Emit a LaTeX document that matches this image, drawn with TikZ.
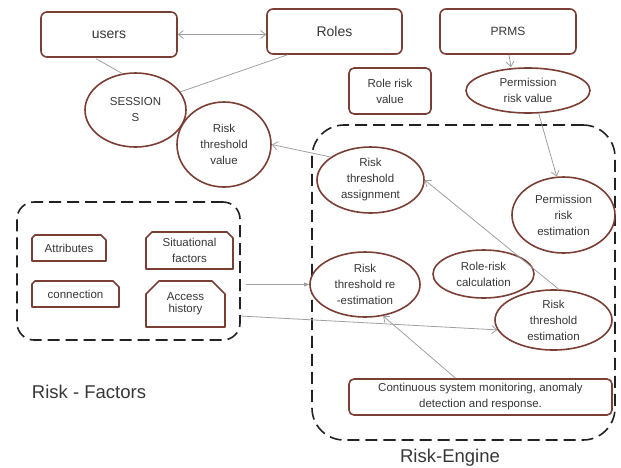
\documentclass[tikz,border=0pt]{standalone}
\usepackage{fontspec}
\setmainfont{Liberation Sans}
\usetikzlibrary{shapes.geometric,arrows.meta}
\definecolor{edgebrown}{RGB}{122,62,52}
\definecolor{txtgray}{RGB}{55,55,55}
\definecolor{linkgray}{RGB}{160,160,160}
\definecolor{dashgray}{RGB}{34,34,34}
\tikzset{
  txt/.style={text=txtgray,align=center,font=\fontsize{11.5}{16}\selectfont,inner sep=0pt},
  boxline/.style={draw=edgebrown,line width=1.6pt,fill=white,line join=round},
  rbox/.style={boxline,rounded corners=6pt,txt},
  oval/.style={boxline,ellipse,txt},
  group/.style={draw=dashgray,line width=1.6pt,dash pattern=on 12pt off 6pt},
  link/.style={draw=linkgray,line width=0.8pt},
  openarrow/.style={link,-{Straight Barb[length=5pt,width=8pt]}},
  solidarrow/.style={link,-{Triangle[length=5pt,width=4pt]}},
  biarrow/.style={link,{Straight Barb[length=5pt,width=8pt]}-{Straight Barb[length=5pt,width=8pt]}},
  biglabel/.style={text=txtgray,font=\fontsize{18.5}{20}\selectfont,inner sep=0pt}
}
% box with cut-off top corners: name, x1, y1, x2, y2, left cut, right cut, text
\newcommand\cutbox[8]{%
  \draw[boxline] ({#2},{#5}) -- ({#2},{#3+#6}) -- ({#2+#6},{#3}) -- ({#4-#7},{#3})
    -- ({#4},{#3+#7}) -- ({#4},{#5}) -- cycle;
  \node[txt] (#1) at ({(#2+#4)/2},{(#3+#5)/2}) {#8};}
\begin{document}
\begin{tikzpicture}[x=1pt,y=-1pt]
\useasboundingbox (0,0) rectangle (621,467);

% dashed groups
\node[group,rounded corners=32pt,minimum width=303pt,minimum height=315pt,inner sep=0pt]
  (re) at (463.5,282.5) {};
\node[group,rounded corners=17pt,minimum width=223pt,minimum height=138pt,inner sep=0pt]
  (rf) at (128.5,271) {};

% top row
\node[rbox,minimum width=136pt,minimum height=45pt,font=\fontsize{14}{16}\selectfont] (users) at (109,34.5) {users};
\node[rbox,minimum width=135pt,minimum height=45pt,font=\fontsize{14}{16}\selectfont] (roles) at (334.5,31.5) {Roles};
\node[rbox,minimum width=136pt,minimum height=45pt,font=\fontsize{12}{14}\selectfont] (prms) at (508,31.5) {PRMS};
\node[rbox,rounded corners=5pt,minimum width=82pt,minimum height=46pt] (rrv) at (390,91) {Role risk\\value};

% ellipses
\node[oval,minimum width=124pt,minimum height=45pt] (prv) at (528,90.5) {Permission\\risk value};
\node[oval,minimum width=101pt,minimum height=74pt] (sess) at (135.5,110) {SESSION\\S};
\node[oval,minimum width=94pt,minimum height=85pt] (rtv) at (224,144.5) {Risk\\threshold\\value};
\node[oval,minimum width=107pt,minimum height=66pt] (rta) at (370.5,180) {Risk\\threshold\\assignment};
\node[oval,minimum width=103pt,minimum height=76pt] (pre) at (563.5,215) {Permission\\risk\\estimation};
\node[oval,minimum width=110pt,minimum height=65pt] (rtre) at (365,284.5) {Risk\\threshold re\\-estimation};
\node[oval,minimum width=101pt,minimum height=48pt] (rrc) at (483.5,274) {Role-risk\\calculation};
\node[oval,minimum width=117pt,minimum height=60pt] (rte) at (553.5,320) {Risk\\threshold\\estimation};
\node[rbox,rounded corners=5pt,minimum width=263pt,minimum height=36pt] (mon) at (480.5,397)
  {Continuous system monitoring, anomaly\\detection and response.};

% risk factors
\cutbox{attr}{32}{235}{106}{261}{3}{5}{Attributes}
\cutbox{conn}{32}{281}{119}{307}{3}{6}{connection}
\cutbox{sit}{146}{232}{233}{269}{6}{6}{Situational\\factors}
\cutbox{acc}{146}{281}{225}{327}{13}{13}{\raisebox{-2pt}{\shortstack{Access\\[1pt]history}}}

% group labels
\node[biglabel] (rflabel) at (89,392) {Risk - Factors};
\node[biglabel] (relabel) at (450,458) {Risk-Engine};

% connectors
\draw[biarrow] (users.east) -- (roles.west |- users.east);
\draw[link] (users.south west) ++(56pt,-1pt) coordinate (uout) (uout) -- (sess.110);
\draw[link] ([xshift=-47pt]roles.south) -- (sess.22);
\draw[openarrow] ([xshift=1pt]prms.south) -- (prv.north -| 511,0);
\draw[openarrow] (prv.-65) -- (pre.100);
\draw[openarrow] (rta.150) -- (rtv.east);
\draw[openarrow] (rte.80) -- (rta.east);
\draw[solidarrow] ([xshift=5pt]rf.east |- rtre.west) -- (rtre.west);
\draw[openarrow] ([yshift=-45pt]rf.east) -- (rte.190);
\draw[openarrow] ([xshift=-25pt]mon.north) -- (rtre.-60);
\end{tikzpicture}
\end{document}
